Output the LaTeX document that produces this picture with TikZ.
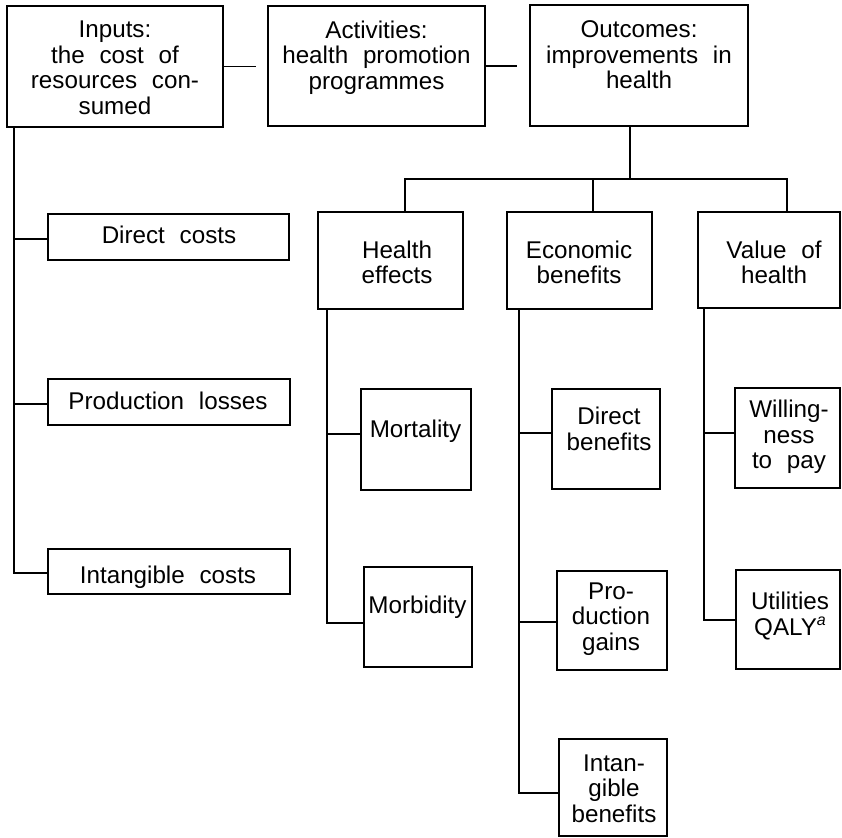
\documentclass[tikz,border=0pt]{standalone}
\usepackage{fontspec}
\setmainfont{Liberation Sans}[WordSpace=2.2]
\newcommand{\supa}{\raisebox{0.75ex}[0pt][0pt]{\fontsize{16}{16}\selectfont\itshape a}}
\begin{document}
\begin{tikzpicture}[x=1pt,y=-1pt,
  box/.style={draw, line width=1.4pt, inner sep=0pt},
  txt/.style={align=center, inner sep=0pt, font=\fontsize{24.2}{25.5}\selectfont},
  conn/.style={line width=1.4pt}]
\useasboundingbox (0,0) rectangle (842,837);
% top row
\node[box, minimum width=216pt, minimum height=121pt] (inputs) at (115,66.5) {};
\node[box, minimum width=217pt, minimum height=120pt] (activities) at (376.5,66) {};
\node[box, minimum width=218pt, minimum height=121pt] (outcomes) at (639,65.5) {};
\node[txt] (tinputs) at (115,67.75) {Inputs:\\the cost of\\resources con-\\sumed};
\node[txt] (tactivities) at (376.5,57.5) {Activities:\\health promotion\\programmes};
\node[txt] (toutcomes) at (639,55) {Outcomes:\\improvements in\\health};
% cost boxes
\node[box, minimum width=241pt, minimum height=46pt] (dcost) at (168.5,237) {};
\node[box, minimum width=242pt, minimum height=46pt] (pcost) at (169,402) {};
\node[box, minimum width=242pt, minimum height=45pt] (icost) at (169,571.5) {};
\node[txt] (tdcost) at (169,235) {Direct costs};
\node[txt] (tpcost) at (168,400.5) {Production losses};
\node[txt] (ticost) at (168,577.5) {Intangible costs};
% outcome categories
\node[box, minimum width=145pt, minimum height=97pt] (health) at (390.5,260.5) {};
\node[box, minimum width=145pt, minimum height=97pt] (econ) at (579.5,260.5) {};
\node[box, minimum width=142pt, minimum height=96pt] (value) at (769,260) {};
\node[txt] (thealth) at (397,262.5) {Health\\effects};
\node[txt] (tecon) at (579,262.5) {Economic\\benefits};
\node[txt] (tvalue) at (774,262.5) {Value of\\health};
% sub boxes
\node[box, minimum width=110pt, minimum height=101pt] (mort) at (416,439.5) {};
\node[box, minimum width=108pt, minimum height=100pt] (morb) at (418,617) {};
\node[box, minimum width=108pt, minimum height=100pt] (dben) at (606,439) {};
\node[box, minimum width=110pt, minimum height=99pt] (pgain) at (612,620.5) {};
\node[box, minimum width=108pt, minimum height=97pt] (iben) at (613,787.5) {};
\node[box, minimum width=105pt, minimum height=100pt] (wtp) at (787.5,438) {};
\node[box, minimum width=104pt, minimum height=99pt] (util) at (788,619.5) {};
\node[txt] (tmort) at (415.5,431) {Mortality};
\node[txt] (tmorb) at (417.5,607) {Morbidity};
\node[txt] (tdben) at (609,429) {Direct\\benefits};
\node[txt] (tpgain) at (611,619) {Pro-\\duction\\gains};
\node[txt] (tiben) at (614,788.5) {Intan-\\gible\\benefits};
\node[txt] (twtp) at (789,437) {Willing-\\ness\\to pay};
\node[txt] (tutil) at (790,616) {Utilities\\QALY\supa};
% top connectors
\draw[conn, shorten >=11pt] (inputs.east) -- (inputs.east -| activities.west);
\draw[conn, shorten >=12pt] (activities.east) -- (activities.east -| outcomes.west);
% inputs trunk
\coordinate (itrunk) at (14,127);
\coordinate (ib1) at (14,239);
\coordinate (ib2) at (14,404);
\coordinate (ib3) at (14,573);
\draw[conn] (itrunk) -- (ib3) -- (ib3 -| icost.west);
\draw[conn] (ib1) -- (ib1 -| dcost.west);
\draw[conn] (ib2) -- (ib2 -| pcost.west);
% outcomes tree
\coordinate (obar) at (630,179);
\coordinate (hdrop) at (405,179);
\coordinate (edrop) at (593,179);
\coordinate (vdrop) at (787,179);
\draw[conn] (obar |- outcomes.south) -- (obar);
\draw[conn] (hdrop |- health.north) -- (hdrop) -- (vdrop) -- (vdrop |- value.north);
\draw[conn] (edrop) -- (edrop |- econ.north);
% health trunk
\coordinate (htrunk) at (327,309);
\coordinate (hb1) at (327,434);
\coordinate (hb2) at (327,623);
\draw[conn] (htrunk) -- (hb2) -- (hb2 -| morb.west);
\draw[conn] (hb1) -- (hb1 -| mort.west);
% economic trunk
\coordinate (etrunk) at (519,309);
\coordinate (eb1) at (519,433);
\coordinate (eb2) at (519,622);
\coordinate (eb3) at (519,793);
\draw[conn] (etrunk) -- (eb3) -- (eb3 -| iben.west);
\draw[conn] (eb1) -- (eb1 -| dben.west);
\draw[conn] (eb2) -- (eb2 -| pgain.west);
% value trunk
\coordinate (vtrunk) at (704,308);
\coordinate (vb1) at (704,433);
\coordinate (vb2) at (704,620);
\draw[conn] (vtrunk) -- (vb2) -- (vb2 -| util.west);
\draw[conn] (vb1) -- (vb1 -| wtp.west);
\end{tikzpicture}
\end{document}
